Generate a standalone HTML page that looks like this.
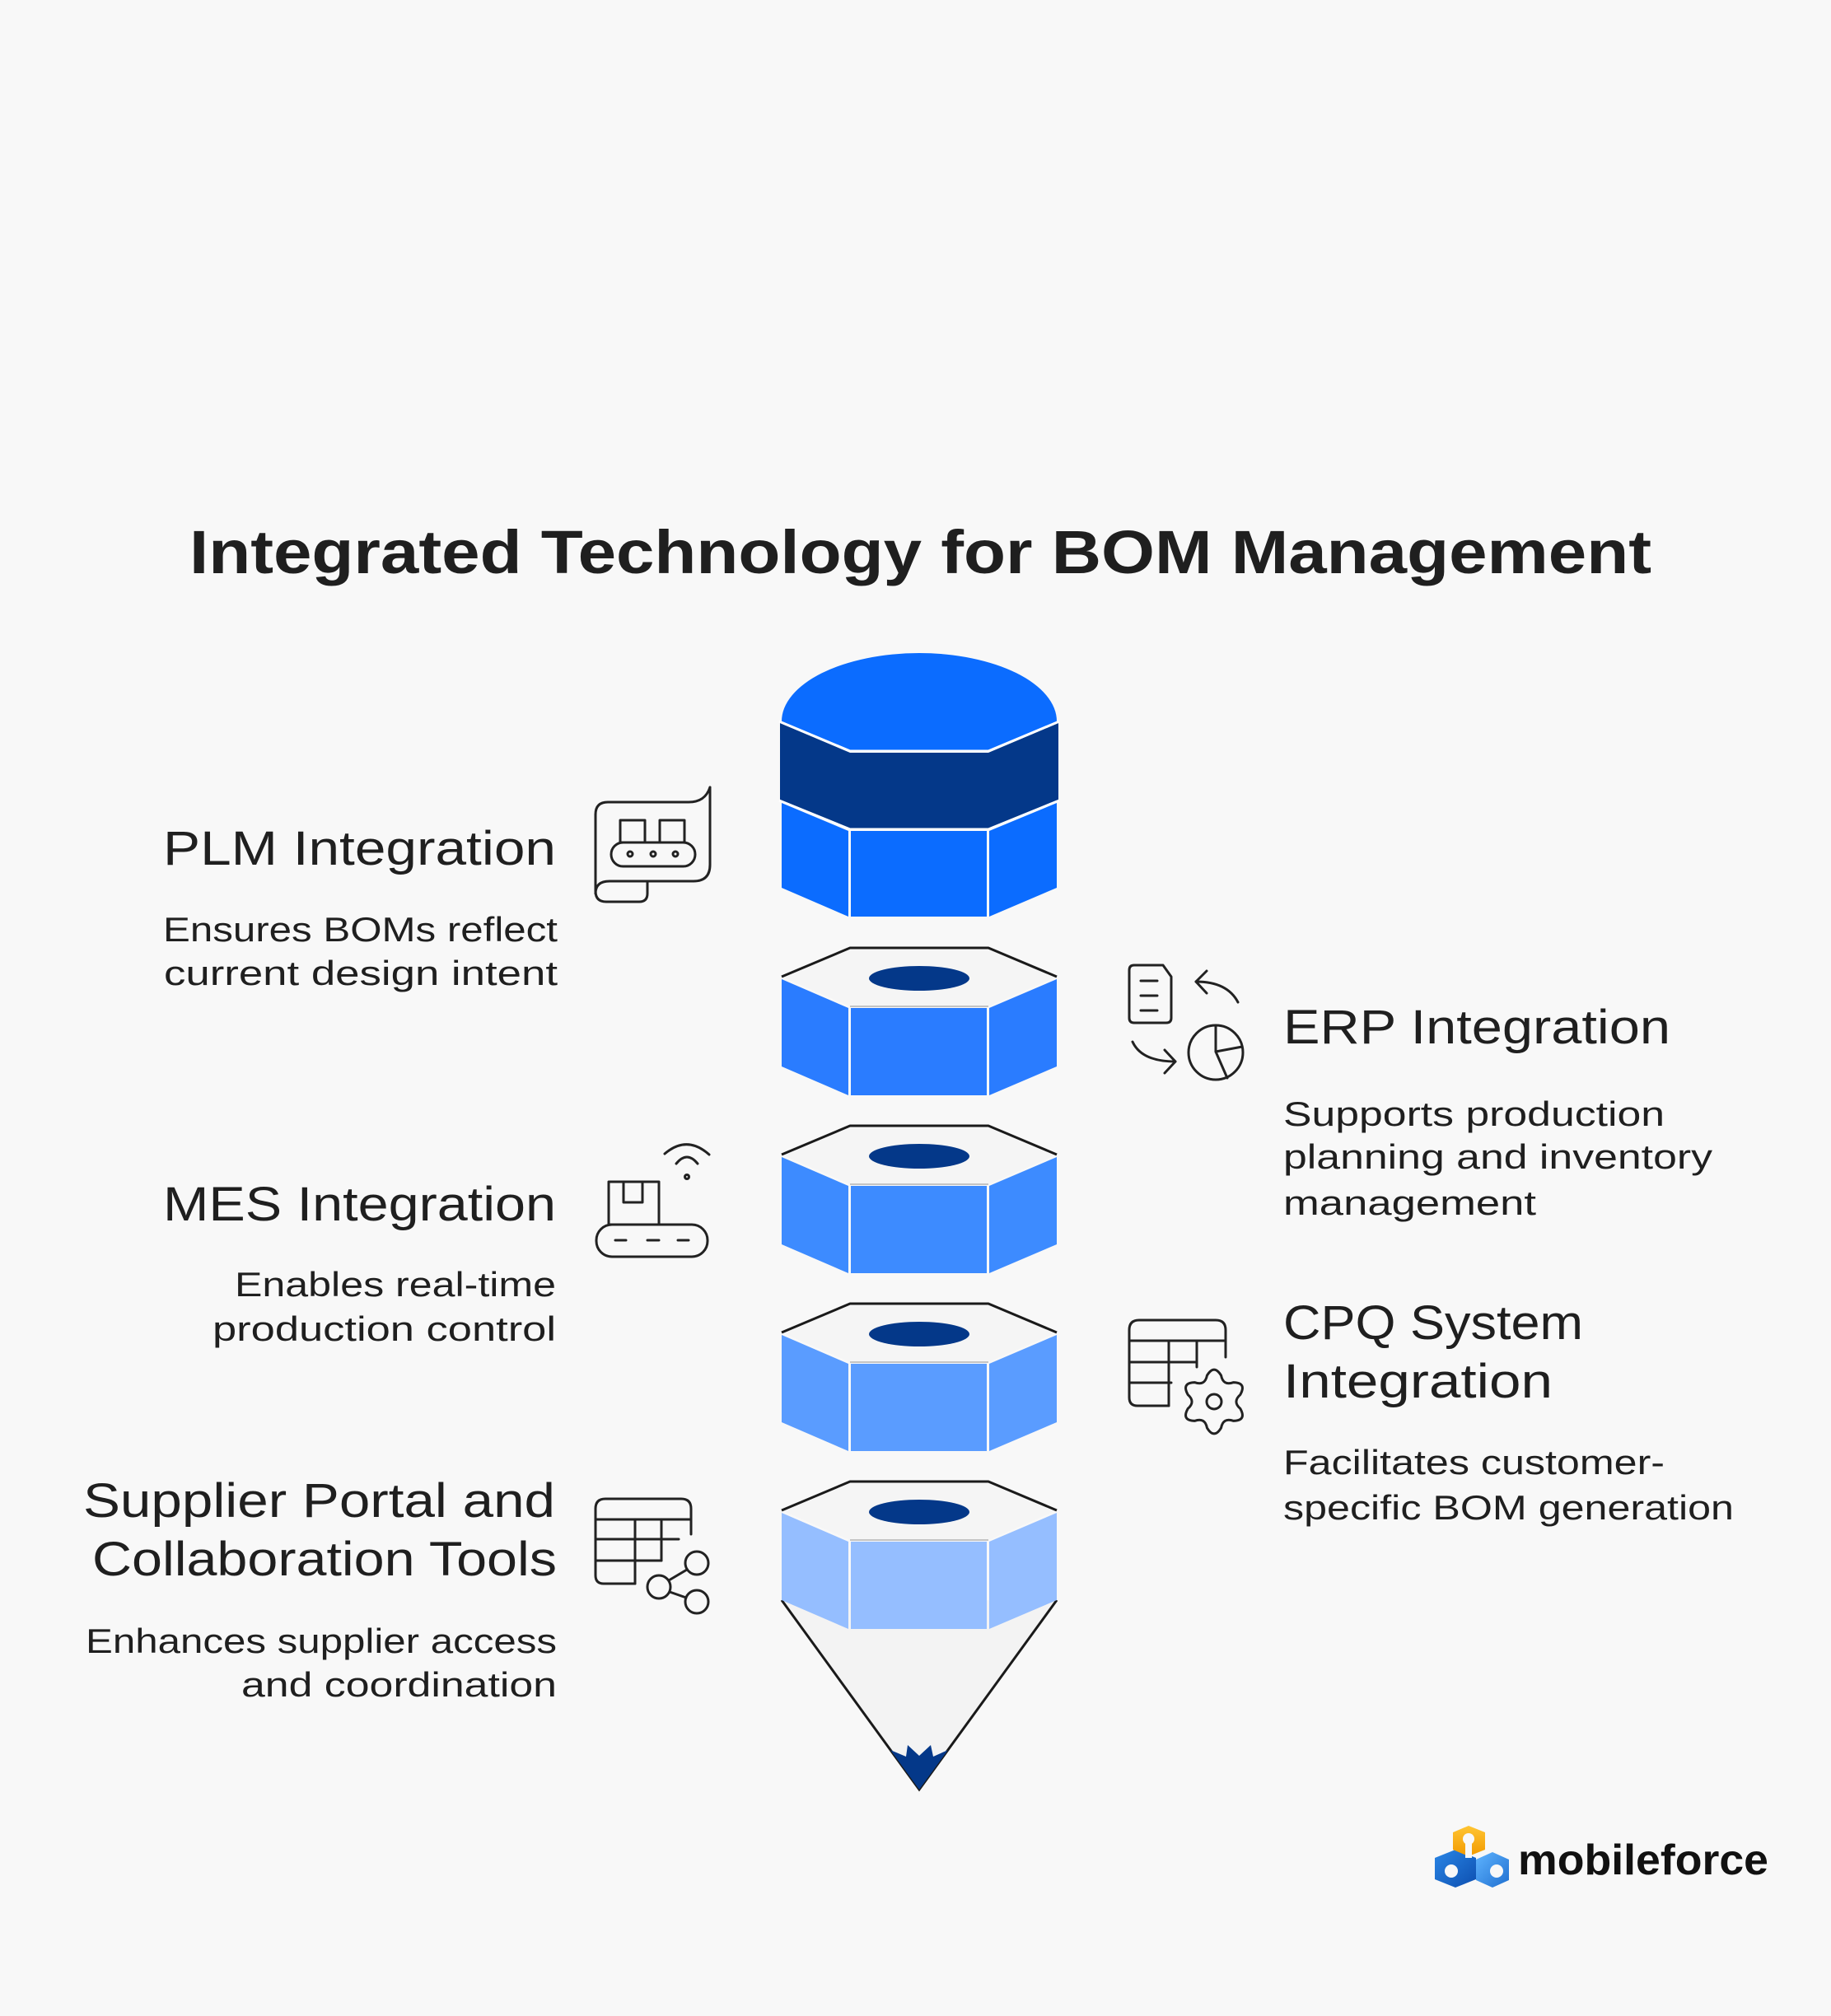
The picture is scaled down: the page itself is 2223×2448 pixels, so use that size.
<!DOCTYPE html>
<html><head><meta charset="utf-8"><style>
html,body{margin:0;padding:0;background:#f8f8f8;}
svg{display:block}
text{font-family:"Liberation Sans",sans-serif;fill:#1f1f1f}
</style></head><body>
<svg width="2223" height="2448" viewBox="0 0 2223 2448" xmlns="http://www.w3.org/2000/svg">
<rect width="2223" height="2448" fill="#f8f8f8"/>

<!-- Title -->
<text x="230" y="696" font-size="74" font-weight="bold" textLength="1775" lengthAdjust="spacingAndGlyphs">Integrated Technology for BOM Management</text>

<!-- ===== Central stack ===== -->
<!-- Top piece -->
<path d="M949 876 A167 83 0 0 1 1283 876 L1200 911 L1032 911 Z" fill="#0b6cff"/>
<polygon points="947,878 1032,914 1200,914 1285,878 1285,971 1200,1006 1032,1006 947,971" fill="#043889"/>
<polyline points="946,876 1032,912 1200,912 1286,876" fill="none" stroke="#ffffff" stroke-width="3"/>
<polygon points="949,975 1030,1009 1030,1113 949,1078" fill="#0b6cff"/>
<rect x="1033" y="1009" width="165" height="104" fill="#0b6cff"/>
<polygon points="1201,1009 1283,975 1283,1078 1201,1113" fill="#0b6cff"/>
<polyline points="946,972 1032,1007 1200,1007 1286,972" fill="none" stroke="#ffffff" stroke-width="3"/>

<!-- Cone -->
<polygon points="949,1943 1283,1943 1116,2173" fill="#f3f3f3"/>
<polyline points="949,1943 1116,2173 1283,1943" fill="none" stroke="#1a1a1a" stroke-width="3" stroke-linejoin="miter"/>
<polygon points="1081,2125 1100,2133 1102,2119 1116,2132 1130,2119 1133,2133 1151,2125 1116,2173" fill="#043889"/>

<!-- Piece 2 -->
<polygon points="949,1186 1032,1151 1200,1151 1283,1186 1200,1222 1032,1222" fill="#f5f5f5"/>
<polyline points="949,1186 1032,1151 1200,1151 1283,1186" fill="none" stroke="#1a1a1a" stroke-width="3" stroke-linejoin="round"/>
<line x1="1032" y1="1222" x2="1200" y2="1222" stroke="#c4c4c4" stroke-width="2"/>
<ellipse cx="1116" cy="1188" rx="61" ry="15" fill="#043889"/>
<polygon points="949,1189 1030,1224 1030,1330 949,1295" fill="#2a7cff"/>
<rect x="1033" y="1224" width="165" height="106" fill="#2a7cff"/>
<polygon points="1201,1224 1283,1189 1283,1295 1201,1330" fill="#2a7cff"/>

<!-- Piece 3 -->
<polygon points="949,1402 1032,1367 1200,1367 1283,1402 1200,1438 1032,1438" fill="#f5f5f5"/>
<polyline points="949,1402 1032,1367 1200,1367 1283,1402" fill="none" stroke="#1a1a1a" stroke-width="3" stroke-linejoin="round"/>
<line x1="1032" y1="1438" x2="1200" y2="1438" stroke="#c4c4c4" stroke-width="2"/>
<ellipse cx="1116" cy="1404" rx="61" ry="15" fill="#043889"/>
<polygon points="949,1405 1030,1440 1030,1546 949,1511" fill="#3d8bff"/>
<rect x="1033" y="1440" width="165" height="106" fill="#3d8bff"/>
<polygon points="1201,1440 1283,1405 1283,1511 1201,1546" fill="#3d8bff"/>

<!-- Piece 4 -->
<polygon points="949,1618 1032,1583 1200,1583 1283,1618 1200,1654 1032,1654" fill="#f5f5f5"/>
<polyline points="949,1618 1032,1583 1200,1583 1283,1618" fill="none" stroke="#1a1a1a" stroke-width="3" stroke-linejoin="round"/>
<line x1="1032" y1="1654" x2="1200" y2="1654" stroke="#c4c4c4" stroke-width="2"/>
<ellipse cx="1116" cy="1620" rx="61" ry="15" fill="#043889"/>
<polygon points="949,1621 1030,1656 1030,1762 949,1727" fill="#5a9cff"/>
<rect x="1033" y="1656" width="165" height="106" fill="#5a9cff"/>
<polygon points="1201,1656 1283,1621 1283,1727 1201,1762" fill="#5a9cff"/>

<!-- Piece 5 -->
<polygon points="949,1834 1032,1799 1200,1799 1283,1834 1200,1870 1032,1870" fill="#f5f5f5"/>
<polyline points="949,1834 1032,1799 1200,1799 1283,1834" fill="none" stroke="#1a1a1a" stroke-width="3" stroke-linejoin="round"/>
<line x1="1032" y1="1870" x2="1200" y2="1870" stroke="#c4c4c4" stroke-width="2"/>
<ellipse cx="1116" cy="1836" rx="61" ry="15" fill="#043889"/>
<polygon points="949,1837 1030,1872 1030,1978 949,1943" fill="#95beff"/>
<rect x="1033" y="1872" width="165" height="106" fill="#95beff"/>
<polygon points="1201,1872 1283,1837 1283,1943 1201,1978" fill="#95beff"/>

<!-- ===== Left texts ===== -->
<text x="198" y="1050" font-size="58" textLength="477" lengthAdjust="spacingAndGlyphs">PLM Integration</text>
<text x="198" y="1143" font-size="42" textLength="479" lengthAdjust="spacingAndGlyphs">Ensures BOMs reflect</text>
<text x="199" y="1196" font-size="42" textLength="478" lengthAdjust="spacingAndGlyphs">current design intent</text>

<text x="198" y="1482" font-size="58" textLength="477" lengthAdjust="spacingAndGlyphs">MES Integration</text>
<text x="285" y="1574" font-size="42" textLength="390" lengthAdjust="spacingAndGlyphs">Enables real-time</text>
<text x="258" y="1628" font-size="42" textLength="417" lengthAdjust="spacingAndGlyphs">production control</text>

<text x="101" y="1842" font-size="58" textLength="573" lengthAdjust="spacingAndGlyphs">Supplier Portal and</text>
<text x="112" y="1913" font-size="58" textLength="564" lengthAdjust="spacingAndGlyphs">Collaboration Tools</text>
<text x="104" y="2007" font-size="42" textLength="572" lengthAdjust="spacingAndGlyphs">Enhances supplier access</text>
<text x="293" y="2060" font-size="42" textLength="383" lengthAdjust="spacingAndGlyphs">and coordination</text>

<!-- ===== Right texts ===== -->
<text x="1558" y="1267" font-size="58" textLength="470" lengthAdjust="spacingAndGlyphs">ERP Integration</text>
<text x="1558" y="1367" font-size="42" textLength="463" lengthAdjust="spacingAndGlyphs">Supports production</text>
<text x="1558" y="1419" font-size="42" textLength="521" lengthAdjust="spacingAndGlyphs">planning and inventory</text>
<text x="1558" y="1475" font-size="42" textLength="307" lengthAdjust="spacingAndGlyphs">management</text>

<text x="1558" y="1626" font-size="58" textLength="364" lengthAdjust="spacingAndGlyphs">CPQ System</text>
<text x="1558" y="1697" font-size="58" textLength="327" lengthAdjust="spacingAndGlyphs">Integration</text>
<text x="1558" y="1790" font-size="42" textLength="463" lengthAdjust="spacingAndGlyphs">Facilitates customer-</text>
<text x="1558" y="1845" font-size="42" textLength="547" lengthAdjust="spacingAndGlyphs">specific BOM generation</text>

<!-- ===== Icons ===== -->
<g fill="none" stroke="#222" stroke-width="3" stroke-linecap="round" stroke-linejoin="round">
  <!-- PLM icon -->
  <path d="M862 956 C858 968 850 974 836 974 L738 974 Q723 974 723 989 L723 1082 Q723 1095 736 1095 L776 1095 Q786 1095 786 1085 L786 1070"/>
  <path d="M862 956 L862 1050 Q862 1070 842 1070 L740 1070 Q723 1070 723 1085"/>
  <rect x="753" y="996" width="30" height="27"/>
  <rect x="801" y="996" width="30" height="27"/>
  <rect x="742" y="1023" width="102" height="29" rx="14.5"/>
  <circle cx="765" cy="1037" r="3"/>
  <circle cx="793" cy="1037" r="3"/>
  <circle cx="820" cy="1037" r="3"/>

  <!-- MES icon -->
  <rect x="739" y="1435" width="61" height="52"/>
  <rect x="757" y="1435" width="23" height="25"/>
  <rect x="724" y="1487" width="135" height="39" rx="19"/>
  <line x1="747" y1="1506" x2="760" y2="1506"/>
  <line x1="786" y1="1506" x2="800" y2="1506"/>
  <line x1="823" y1="1506" x2="836" y2="1506"/>
  <circle cx="834" cy="1429" r="2.5"/>
  <path d="M821 1413 Q834 1397 847 1413"/>
  <path d="M807 1401 Q834 1378 861 1402"/>

  <!-- Supplier icon -->
  <path d="M771 1923 L733 1923 Q723 1923 723 1913 L723 1832 Q723 1820 735 1820 L827 1820 Q839 1820 839 1832 L839 1863"/>
  <line x1="723" y1="1845" x2="839" y2="1845"/>
  <line x1="723" y1="1869" x2="824" y2="1869"/>
  <line x1="723" y1="1895" x2="803" y2="1895"/>
  <line x1="771" y1="1845" x2="771" y2="1923"/>
  <line x1="803" y1="1845" x2="803" y2="1895"/>
  <circle cx="846" cy="1898" r="14"/>
  <circle cx="800" cy="1927" r="14"/>
  <circle cx="846" cy="1945" r="14"/>
  <line x1="812" y1="1919" x2="834" y2="1906"/>
  <line x1="813" y1="1933" x2="833" y2="1940"/>

  <!-- ERP icon -->
  <path d="M1377 1172 L1412 1172 L1422 1186 L1422 1236 Q1422 1242 1416 1242 L1377 1242 Q1371 1242 1371 1236 L1371 1178 Q1371 1172 1377 1172 Z"/>
  <line x1="1385" y1="1191" x2="1405" y2="1191"/>
  <line x1="1385" y1="1209" x2="1405" y2="1209"/>
  <line x1="1385" y1="1227" x2="1405" y2="1227"/>
  <path d="M1503 1217 Q1490 1192 1452 1192"/>
  <path d="M1465 1179 L1452 1192 L1465 1206"/>
  <path d="M1375 1265 Q1386 1289 1427 1289"/>
  <path d="M1414 1275 L1427 1289 L1414 1303"/>
  <circle cx="1476" cy="1278" r="33"/>
  <path d="M1476 1245 L1476 1277 L1508 1271"/>
  <path d="M1476 1277 L1490 1309"/>

  <!-- CPQ icon -->
  <path d="M1419 1707 L1381 1707 Q1371 1707 1371 1697 L1371 1615 Q1371 1603 1383 1603 L1476 1603 Q1488 1603 1488 1615 L1488 1648"/>
  <line x1="1371" y1="1628" x2="1488" y2="1628"/>
  <line x1="1371" y1="1654" x2="1452" y2="1654"/>
  <line x1="1371" y1="1679" x2="1422" y2="1679"/>
  <line x1="1419" y1="1628" x2="1419" y2="1707"/>
  <line x1="1453" y1="1628" x2="1453" y2="1660"/>
  <path d="M1465.46 1670.13 Q1474 1656 1482.54 1670.13 Q1485 1682.95 1497.33 1678.67 Q1513.84 1679 1505.87 1693.46 Q1496 1702 1505.87 1710.54 Q1513.84 1725 1497.33 1725.33 Q1485 1721.05 1482.54 1733.87 Q1474 1748 1465.46 1733.87 Q1463 1721.05 1450.67 1725.33 Q1434.16 1725 1442.13 1710.54 Q1452 1702 1442.13 1693.46 Q1434.16 1679 1450.67 1678.67 Q1463 1682.95 1465.46 1670.13 Z" fill="#f8f8f8"/>
  <circle cx="1474" cy="1702" r="9"/>
</g>

<!-- ===== Logo ===== -->
<defs>
  <linearGradient id="og" x1="0" y1="0" x2="0" y2="1">
    <stop offset="0" stop-color="#ffc533"/>
    <stop offset="1" stop-color="#f29a00"/>
  </linearGradient>
  <linearGradient id="bg1" x1="0" y1="0" x2="1" y2="1">
    <stop offset="0" stop-color="#2a86e6"/>
    <stop offset="1" stop-color="#0d4fb0"/>
  </linearGradient>
  <linearGradient id="bg2" x1="0" y1="0" x2="1" y2="1">
    <stop offset="0" stop-color="#5fb4ff"/>
    <stop offset="1" stop-color="#1f6fd0"/>
  </linearGradient>
</defs>
<polygon points="1767,2246 1792,2256 1792,2282 1767,2292 1742,2282 1742,2256" fill="url(#bg1)"/>
<polygon points="1812,2249 1832,2258 1832,2283 1812,2292 1792,2283 1792,2258" fill="url(#bg2)"/>
<polygon points="1783,2217 1803,2225 1803,2246 1783,2254 1764,2246 1764,2225" fill="url(#og)"/>
<circle cx="1762" cy="2272" r="8" fill="#f8f8f8"/>
<circle cx="1817" cy="2272" r="8" fill="#f8f8f8"/>
<circle cx="1783" cy="2233" r="7" fill="#f8f8f8"/>
<polygon points="1779,2238 1787,2238 1787,2256 1779,2256" fill="#f8f8f8"/>
<text x="1843" y="2276" font-size="52" font-weight="bold" textLength="304" lengthAdjust="spacingAndGlyphs" style="fill:#111">mobileforce</text>
</svg>
</body></html>
